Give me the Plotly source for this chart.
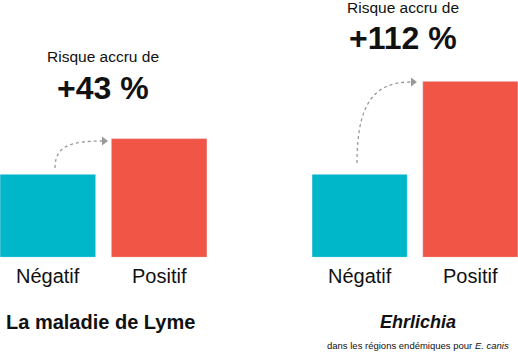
import plotly.graph_objects as go

W, H = 518, 358

categories = ["Négatif", "Positif"]
lyme_values = [1.0, 1.43]
ehrlichia_values = [1.0, 2.12]
lyme_label = "+43 %"
ehrlichia_label = "+112 %"
risk_text = "Risque accru de"
lyme_title = "La maladie de Lyme"
ehrlichia_title = "Ehrlichia"
ehrlichia_sub = "dans les régions endémiques pour <i>E. canis</i>"

colors = ["#00B7CA", "#F05545"]
FONT = "Liberation Sans, Arial, Helvetica, sans-serif"


def px(x):
    return x / W


def py(y):
    return 1 - y / H


fig = go.Figure()
fig.add_trace(go.Bar(x=categories, y=lyme_values, marker_color=colors,
                     xaxis="x", yaxis="y", hoverinfo="skip"))
fig.add_trace(go.Bar(x=categories, y=ehrlichia_values, marker_color=colors,
                     xaxis="x2", yaxis="y2", hoverinfo="skip"))

ydom = [py(257.3), py(257.3 - 2.5 * 83)]
axis_common = dict(showgrid=False, zeroline=False, showline=False, showticklabels=False, ticks="")
fig.update_layout(
    width=W, height=H, margin=dict(l=0, r=0, t=0, b=0),
    paper_bgcolor="white", plot_bgcolor="white", showlegend=False,
    bargap=0.14,
    font=dict(family=FONT, color="#111"),
    xaxis=dict(domain=[0, px(207)], range=[-0.43, 1.43], **axis_common),
    xaxis2=dict(domain=[px(312), px(518)], range=[-0.43, 1.43], **axis_common),
    yaxis=dict(domain=ydom, range=[0, 2.5], **axis_common),
    yaxis2=dict(domain=ydom, range=[0, 2.5], anchor="x2", **axis_common),
)

# category labels
for xd in ("x", "x2"):
    for c in categories:
        fig.add_annotation(x=c, xref=xd, y=py(276), yref="paper", text=c, showarrow=False,
                           xanchor="center", yanchor="middle",
                           font=dict(size=20, family=FONT, color="#111"))


def add_text(x, y, text, size, bold=False, italic=False):
    t = text
    if bold:
        t = "<b>" + t + "</b>"
    if italic:
        t = "<i>" + t + "</i>"
    fig.add_annotation(x=px(x), y=py(y), xref="paper", yref="paper", text=t,
                       showarrow=False, xanchor="center", yanchor="middle",
                       font=dict(size=size, family=FONT, color="#111"))


add_text(103, 57, risk_text, 15.5)
add_text(103, 88, lyme_label, 32, bold=True)
add_text(403, 8, risk_text, 15.5)
add_text(403, 38, ehrlichia_label, 32, bold=True)
add_text(100, 322, lyme_title, 20, bold=True)
add_text(418, 322, ehrlichia_title, 18, bold=True, italic=True)
add_text(418, 345, ehrlichia_sub, 9.5)


def P(x, y):
    return f"{px(x):.5f},{py(y):.5f}"


grey = "#999999"
# left arrow
fig.add_shape(type="path", xref="paper", yref="paper",
              path=f"M {P(55,168)} C {P(55,146)} {P(70,141)} {P(103,141)}",
              line=dict(color=grey, width=1.3, dash="dot"))
fig.add_shape(type="path", xref="paper", yref="paper",
              path=f"M {P(108,141)} L {P(102,136.5)} L {P(102,145.5)} Z",
              line=dict(width=0), fillcolor=grey)
# right arrow
fig.add_shape(type="path", xref="paper", yref="paper",
              path=f"M {P(357,163)} C {P(357,102)} {P(375,82)} {P(411,82)}",
              line=dict(color=grey, width=1.3, dash="dot"))
fig.add_shape(type="path", xref="paper", yref="paper",
              path=f"M {P(417,82)} L {P(411,77.5)} L {P(411,86.5)} Z",
              line=dict(width=0), fillcolor=grey)

fig.write_html("out.html", config={"displayModeBar": False},
               post_script="document.body.style.margin='0';document.body.style.overflow='hidden';")
